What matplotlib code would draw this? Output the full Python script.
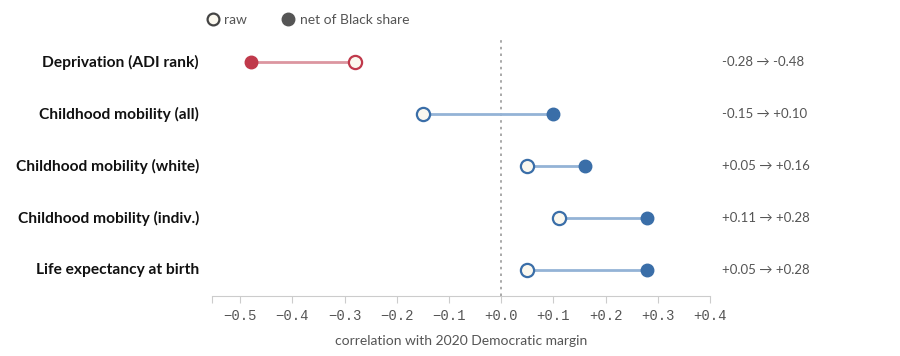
import matplotlib.pyplot as plt
from matplotlib.lines import Line2D

labels = ["Deprivation (ADI rank)", "Childhood mobility (all)", "Childhood mobility (white)",
          "Childhood mobility (indiv.)", "Life expectancy at birth"]
raw = [-0.28, -0.15, 0.05, 0.11, 0.05]
net = [-0.48, 0.10, 0.16, 0.28, 0.28]
ticks = [-0.5, -0.4, -0.3, -0.2, -0.1, 0.0, 0.1, 0.2, 0.3, 0.4]

RED, RED_L = "#c0394b", "#dc96a0"
BLUE, BLUE_L = "#3a6ea8", "#94b3d6"
CREAM = "#fbf8ef"
GRAY = "#555555"

plt.rcParams['font.family'] = ['Lato', 'DejaVu Sans']

fig = plt.figure(figsize=(9, 3.56), dpi=100)
ax = fig.add_axes([212 / 900, 60 / 356, 498 / 900, 260 / 356])
ax.set_xlim(-0.554, 0.4)
ax.set_ylim(4.5, -0.5)

ax.axvline(0, color="#999999", lw=1.2, ls=(0, (1.5, 2.5)), zorder=1)

for i, (r, n) in enumerate(zip(raw, net)):
    c, cl = (RED, RED_L) if n < r else (BLUE, BLUE_L)
    ax.plot([r, n], [i, i], color=cl, lw=2, zorder=2, solid_capstyle='butt')
    ax.plot(n, i, 'o', ms=9, mfc=c, mec=c, zorder=3)
    ax.plot(r, i, 'o', ms=9.5, mfc=CREAM, mec=c, mew=1.6, zorder=3)
    ax.text(-0.579, i, labels[i], ha='right', va='center', fontsize=11.2,
            fontweight='bold', color="#111111", clip_on=False)
    ax.text(0.423, i, f"{r:+.2f} \u2192 {n:+.2f}", ha='left', va='center',
            fontsize=9.5, color=GRAY, clip_on=False)

for s in ["top", "right", "left"]:
    ax.spines[s].set_visible(False)
ax.spines["bottom"].set_color("#cccccc")
ax.set_yticks([])
ax.set_xticks(ticks + [-0.554])
ax.set_xticklabels([f"{t:+.1f}".replace("-", "\u2212") for t in ticks] + [""],
                   family="Liberation Mono", fontsize=10, color=GRAY)
ax.tick_params(axis='x', length=5, color="#cccccc", pad=4)
ax.set_xlabel("correlation with 2020 Democratic margin", fontsize=10, color=GRAY, labelpad=9)

handles = [Line2D([], [], ls='none', marker='o', ms=8.5, mfc=CREAM, mec="#444444", mew=1.6),
           Line2D([], [], ls='none', marker='o', ms=9, mfc=GRAY, mec=GRAY)]
fig.legend(handles, ["raw", "net of Black share"], loc='center left',
           bbox_to_anchor=(192 / 900, 1 - 20 / 356), ncol=2, frameon=False, fontsize=10,
           labelcolor=GRAY, handletextpad=0.2, columnspacing=2.4, handlelength=1.2)

fig.savefig("out.png", dpi=100, facecolor="white")
